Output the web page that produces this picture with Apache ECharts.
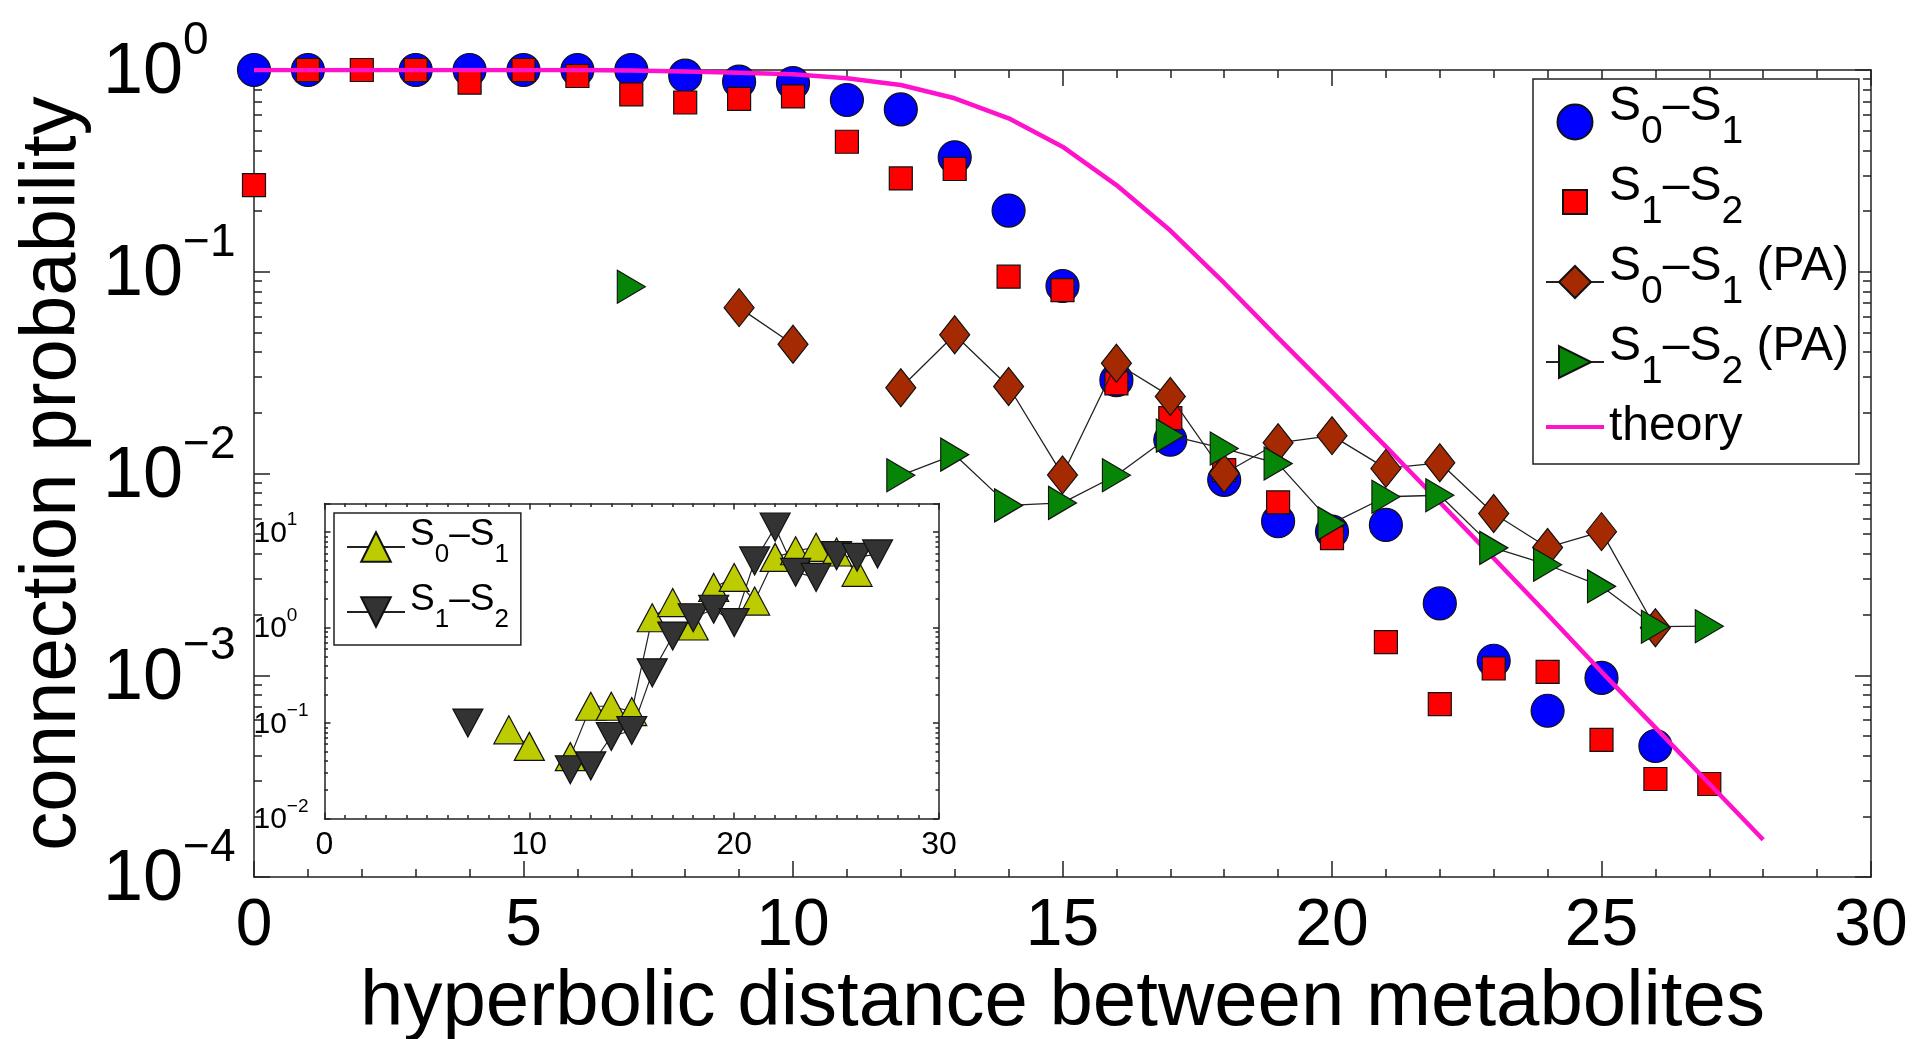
<!DOCTYPE html>
<html><head><meta charset="utf-8">
<script src="https://cdn.jsdelivr.net/npm/echarts@6/dist/echarts.min.js"></script>
<style>html,body{margin:0;padding:0;background:#fff}#c{width:1921px;height:1039px}</style>
</head><body><div id="c"></div>
<script>
// ---- data ----
const distance = [0,1,2,3,4,5,6,7,8,9,10,11,12,13,14,15,16,17,18,19,20,21,22,23,24,25,26,27,28];
const s0s1 = [1.0,1.0,null,1.0,1.0,1.0,1.0,1.0,0.937,0.875,0.86,0.71,0.638,0.369,0.201,0.085,0.029,0.0147,0.0093,0.0058,0.00515,0.00556,0.00227,0.00118,0.000667,0.00097,0.000446,null,null];
const s1s2 = [0.269,1.0,1.0,1.0,0.865,1.0,0.934,0.757,0.69,0.72,0.74,0.441,0.29,0.323,0.0945,0.081,0.028,0.0188,0.0104,0.0072,0.00478,0.00146,0.00072,0.00108,0.00104,0.000478,0.000306,0.000289,null];
const s0s1PA = [null,null,null,null,null,null,null,null,null,0.0664,0.0437,null,0.0266,0.0487,0.027,0.00984,0.0352,0.0241,0.01,0.0142,0.0154,0.0106,0.0113,0.00634,0.0043,0.00515,0.00172,null,null];
const s1s2PA = [null,null,null,null,null,null,null,0.0843,null,null,null,null,0.0098,0.0124,0.00695,0.00715,0.0098,0.0154,0.0133,0.0112,0.00566,0.00767,0.0078,0.00428,0.00353,0.00276,0.00174,0.00175,null];
const theory = [1,1,1,1,1,1,1,0.995,0.982,0.968,0.952,0.91,0.843,0.724,0.576,0.417,0.269,0.16,0.088,0.047,0.0254,0.0136,0.0072,0.0038,0.002,0.00104,0.00055,0.00029,0.000153];
// inset
const inS0S1 = [null,null,null,null,null,null,null,null,null,0.085,0.057,null,0.0445,0.15,0.15,0.132,1.27,1.83,1.04,2.64,3.36,1.9,5.45,6.4,6.95,6.2,3.8,null,null];
const inS1S2 = [null,null,null,null,null,null,null,0.1,null,null,null,null,0.0324,0.0356,0.0723,0.0836,0.336,0.816,1.27,1.56,1.13,5.0,11.3,3.8,3.36,5.68,5.46,5.92,null];
// axis ticks
const mainDecades = [-4,-3,-2,-1,0];
const insetDecades = [-2,-1,0,1];
const minorFactors = [2,3,4,5,6,7,8,9];
const insetTop = 20;

const FONT = "'Liberation Sans', Arial, Helvetica, sans-serif";
const LINE = '#222';

function minorLogValues(decades, maxLog) {
  const out = [];
  decades.forEach(d => minorFactors.forEach(k => { const v = d + Math.log10(k); if (v < maxLog - 1e-9) out.push(v); }));
  return out;
}
const mainMinor = minorLogValues(mainDecades.slice(0, -1), 0);
const insetMinor = minorLogValues(insetDecades, Math.log10(insetTop));

const toPairs = ys => distance.map((x, i) => [x, ys[i] == null ? '-' : ys[i]]);
const toPoints = ys => toPairs(ys).filter(p => p[1] !== '-');

function powLabel(v) {
  const l = Math.log10(v), e = Math.round(l);
  if (Math.abs(l - e) > 1e-6) return '';
  return '{b|10}{s|' + (e < 0 ? '\u2212' + (-e) : String(e)) + '}';
}
function legendText(name, n, sub, t) {
  if (name === 'theory') return '{' + t + '|theory}';
  const m = name.match(/S(\d)-S(\d)( \(PA\))?/);
  let s = '{' + n + '|S}{' + sub + '|' + m[1] + '}{' + n + '|\u2013S}{' + sub + '|' + m[2] + '}';
  if (m[3]) s += '{' + n + '| (PA)}';
  return s;
}

const tickStyle = {color: LINE, width: 1.5};
const lineAx = {show: true, onZero: false, lineStyle: {color: LINE, width: 1.5}};
const noLine = {show: false, onZero: false};

function xAx(grid, pos, interval, len, showLine, extra) {
  return Object.assign({
    gridIndex: grid, type: 'value', position: pos, min: 0, max: 30, interval: interval,
    axisLine: showLine ? lineAx : noLine,
    axisTick: {show: true, inside: true, length: len, lineStyle: tickStyle},
    axisLabel: {show: false}, splitLine: {show: false}, silent: true
  }, extra || {});
}
function yLog(grid, pos, min, max, len, extra) {
  return Object.assign({
    gridIndex: grid, type: 'log', logBase: 10, position: pos, min: min, max: max,
    axisLine: lineAx,
    axisTick: {show: true, inside: true, length: len, lineStyle: tickStyle},
    axisLabel: {show: false}, splitLine: {show: false}, minorTick: {show: false}, silent: true
  }, extra || {});
}
function yMinor(grid, pos, min, max, len, vals) {
  return {
    gridIndex: grid, type: 'value', position: pos, min: min, max: max,
    axisLine: noLine,
    axisTick: {show: true, inside: true, length: len, lineStyle: tickStyle, customValues: vals},
    axisLabel: {show: false}, splitLine: {show: false}, silent: true
  };
}

const border = {borderColor: '#111', borderWidth: 1.2, opacity: 1};

const option = {
  animation: false,
  backgroundColor: '#fff',
  grid: [
    {left: 254, top: 70, width: 1617, height: 807, outerBoundsMode: 'none', containLabel: false},
    {left: 324.5, top: 503.5, width: 614.5, height: 315, show: true, backgroundColor: '#fff', borderWidth: 0, outerBoundsMode: 'none', containLabel: false}
  ],
  xAxis: [
    xAx(0, 'bottom', 5, 16, true, {
      axisLabel: {show: true, margin: 17, fontSize: 66, fontFamily: FONT, color: '#000'},
      name: 'hyperbolic distance between metabolites', nameLocation: 'middle', nameGap: 78,
      nameTextStyle: {fontSize: 78, fontFamily: FONT, color: '#000'}
    }),
    xAx(0, 'bottom', 1, 8, false),
    xAx(0, 'top', 5, 16, true),
    xAx(0, 'top', 1, 8, false),
    xAx(1, 'bottom', 10, 6, true, {
      axisLabel: {show: true, margin: 11, fontSize: 32, fontFamily: FONT, color: '#000'}
    }),
    xAx(1, 'bottom', 1, 3.5, false),
    xAx(1, 'top', 10, 6, true),
    xAx(1, 'top', 1, 3.5, false)
  ],
  yAxis: [
    yLog(0, 'left', 1e-4, 1, 16, {
      axisLabel: {show: true, align: 'left', margin: 151, formatter: powLabel, color: '#000',
        rich: {
          b: {fontSize: 72, fontFamily: FONT, color: '#000', padding: [0, 0, 12, 0], verticalAlign: 'bottom'},
          s: {fontSize: 46, fontFamily: FONT, color: '#000', padding: [0, 0, 57, 0], verticalAlign: 'top'}
        }},
      name: 'connection probability', nameLocation: 'middle', nameGap: 162,
      nameTextStyle: {fontSize: 78, fontFamily: FONT, color: '#000'}
    }),
    yMinor(0, 'left', -4, 0, 8, mainMinor),
    yLog(0, 'right', 1e-4, 1, 16),
    yMinor(0, 'right', -4, 0, 8, mainMinor),
    yLog(1, 'left', 0.01, insetTop, 6, {
      axisLabel: {show: true, align: 'left', margin: 71, formatter: powLabel, color: '#000',
        rich: {
          b: {fontSize: 30, fontFamily: FONT, color: '#000', padding: [0, 0, 5, 0], verticalAlign: 'bottom'},
          s: {fontSize: 19, fontFamily: FONT, color: '#000', padding: [0, 0, 24, 0], verticalAlign: 'top'}
        }}
    }),
    yMinor(1, 'left', -2, Math.log10(insetTop), 3.5, insetMinor),
    yLog(1, 'right', 0.01, insetTop, 6),
    yMinor(1, 'right', -2, Math.log10(insetTop), 3.5, insetMinor)
  ],
  legend: [
    {
      orient: 'vertical', left: 1533, top: 79, itemWidth: 58, itemHeight: 40, itemGap: 11,
      padding: [4, 10, 13, 12], borderColor: LINE, borderWidth: 1.5, backgroundColor: '#fff',
      selectedMode: false,
      data: [
        {name: 'S0-S1', icon: 'path://M0,0M40,40M2.5,20A17.5,17.5,0,1,1,37.5,20A17.5,17.5,0,1,1,2.5,20Z'},
        {name: 'S1-S2', icon: 'path://M0,0M40,40M8,8h24v24h-24z'},
        'S0-S1 (PA)', 'S1-S2 (PA)',
        {name: 'theory', icon: 'path://M0,0h58v4h-58z'}
      ],
      formatter: name => legendText(name, 'n', 'sub', 't'),
      textStyle: {color: '#000', fontFamily: FONT, fontSize: 48, rich: {
        n: {fontSize: 48, fontFamily: FONT, color: '#000', lineHeight: 78, verticalAlign: 'top'},
        sub: {fontSize: 39, fontFamily: FONT, color: '#000', lineHeight: 78, padding: [30, 0, 0, 0], verticalAlign: 'top'},
        t: {fontSize: 48, fontFamily: FONT, color: '#000', lineHeight: 60, verticalAlign: 'middle'}
      }}
    },
    {
      orient: 'vertical', left: 334, top: 513, itemWidth: 58, itemHeight: 37, itemGap: 13,
      padding: [3, 12, 12, 12], borderColor: LINE, borderWidth: 1.5, backgroundColor: '#fff',
      selectedMode: false,
      data: ['in S0-S1', 'in S1-S2'],
      formatter: name => legendText(name, 'n', 'sub', 't'),
      textStyle: {color: '#000', fontFamily: FONT, fontSize: 37, rich: {
        n: {fontSize: 37, fontFamily: FONT, color: '#000', lineHeight: 62, verticalAlign: 'top'},
        sub: {fontSize: 26, fontFamily: FONT, color: '#000', lineHeight: 62, padding: [26, 0, 0, 0], verticalAlign: 'top'},
        t: {fontSize: 37, fontFamily: FONT, color: '#000'}
      }}
    }
  ],
  series: [
    {name: 'S0-S1', type: 'scatter', xAxisIndex: 0, yAxisIndex: 0, symbol: 'circle', symbolSize: 33,
      itemStyle: Object.assign({color: '#0000ff'}, border), data: toPoints(s0s1), silent: true},
    {name: 'S1-S2', type: 'scatter', xAxisIndex: 0, yAxisIndex: 0, symbol: 'rect', symbolSize: 23,
      itemStyle: Object.assign({color: '#ff0000'}, border), data: toPoints(s1s2), silent: true},
    {name: 'S0-S1 (PA)', type: 'line', xAxisIndex: 0, yAxisIndex: 0, symbol: 'diamond', symbolSize: [30, 38],
      showSymbol: true, connectNulls: false, itemStyle: Object.assign({color: '#a52a02'}, border),
      lineStyle: {color: LINE, width: 1.3}, data: toPairs(s0s1PA), silent: true},
    {name: 'S1-S2 (PA)', type: 'line', xAxisIndex: 0, yAxisIndex: 0, symbol: 'triangle', symbolRotate: -90, symbolSize: [33, 28],
      showSymbol: true, connectNulls: false, itemStyle: Object.assign({color: '#078507'}, border),
      lineStyle: {color: LINE, width: 1.3}, data: toPairs(s1s2PA), silent: true},
    {name: 'theory', type: 'line', xAxisIndex: 0, yAxisIndex: 0, symbol: 'none', showSymbol: false,
      itemStyle: {color: '#ff12cc'}, lineStyle: {color: '#ff12cc', width: 4.5}, data: toPairs(theory), silent: true},
    {name: 'in S0-S1', type: 'line', xAxisIndex: 4, yAxisIndex: 4, symbol: 'triangle', symbolSize: [30, 28],
      showSymbol: true, connectNulls: false, itemStyle: Object.assign({color: '#bdcc00'}, border),
      lineStyle: {color: LINE, width: 1.2}, data: toPairs(inS0S1), silent: true},
    {name: 'in S1-S2', type: 'line', xAxisIndex: 4, yAxisIndex: 4, symbol: 'triangle', symbolRotate: 180, symbolSize: [30, 28],
      showSymbol: true, connectNulls: false, itemStyle: Object.assign({color: '#333333'}, border),
      lineStyle: {color: LINE, width: 1.2}, data: toPairs(inS1S2), silent: true}
  ]
};
const chart = echarts.init(document.getElementById('c'), null, {renderer: 'canvas', width: 1921, height: 1039});
chart.setOption(option);
</script>
</body></html>
